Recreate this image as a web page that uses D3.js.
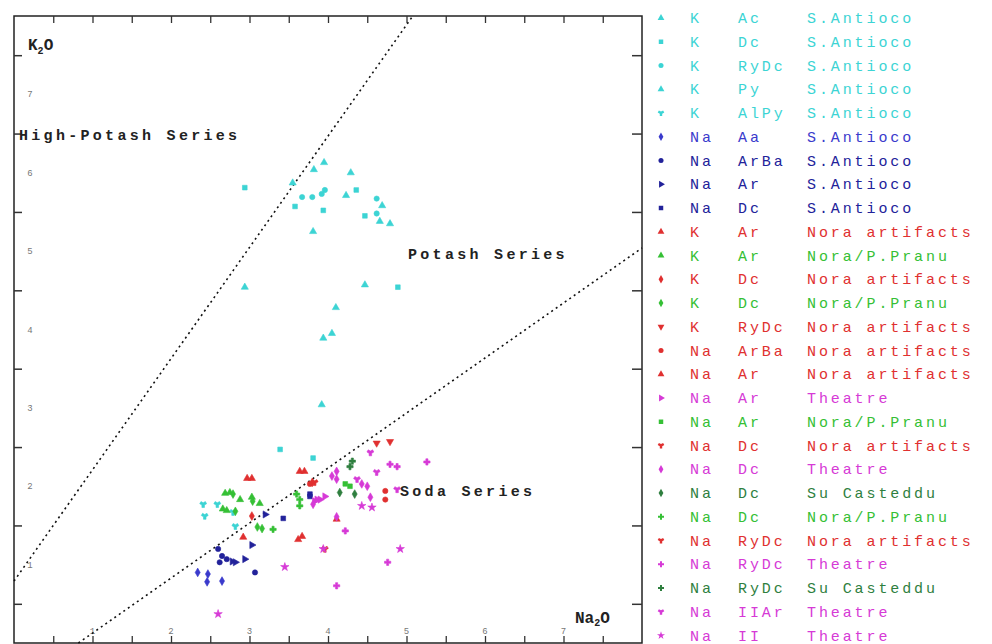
<!DOCTYPE html>
<html><head><meta charset="utf-8">
<script src="https://cdn.jsdelivr.net/npm/d3@7/dist/d3.min.js"></script>
<style>
html,body{margin:0;padding:0;background:#fff;}
svg text{font-family:"Liberation Mono","DejaVu Sans Mono",monospace;}
</style></head>
<body><svg id="c" width="992" height="644"></svg>
<script>
// ---- data ----
const xTicks = [1,2,3,4,5,6,7];
const yTicks = [1,2,3,4,5,6,7];
const potashLine = [[0,0.79],[5.08,8]];
const sodaLine = [[0.82,0],[8,5.04]];
const seriesType = ["K","K","K","K","K","Na","Na","Na","Na","K","K","K","K","K","Na","Na","Na","Na","Na","Na","Na","Na","Na","Na","Na","Na","Na"];
const seriesGlass = ["Ac","Dc","RyDc","Py","AlPy","Aa","ArBa","Ar","Dc","Ar","Ar","Dc","Dc","RyDc","ArBa","Ar","Ar","Ar","Dc","Dc","Dc","Dc","RyDc","RyDc","RyDc","IIAr","II"];
const seriesSite = ["S.Antioco","S.Antioco","S.Antioco","S.Antioco","S.Antioco","S.Antioco","S.Antioco","S.Antioco","S.Antioco","Nora artifacts","Nora/P.Pranu","Nora artifacts","Nora/P.Pranu","Nora artifacts","Nora artifacts","Nora artifacts","Theatre","Nora/P.Pranu","Nora artifacts","Theatre","Su Casteddu","Nora/P.Pranu","Nora artifacts","Theatre","Su Casteddu","Theatre","Theatre"];
const s01 = [[3.95,6.13],[3.82,6.04],[4.29,6.00],[3.55,5.87],[4.23,5.71],[4.79,5.35],[3.81,5.25],[4.47,4.57],[4.05,3.95],[3.92,3.04]];
const s02 = [[2.94,5.81],[3.58,5.57],[3.94,5.52],[4.36,5.78],[4.47,5.45],[4.89,4.54],[3.39,2.47],[3.81,2.36]];
const s03 = [[3.67,5.69],[3.80,5.69],[3.92,5.73],[3.96,5.78],[4.62,5.67],[4.62,5.48]];
const s04 = [[4.69,5.58],[4.66,5.38],[2.94,4.54],[4.10,4.28],[3.94,3.89]];
const s05 = [[2.41,1.77],[2.43,1.62],[2.59,1.77],[2.79,1.67],[2.82,1.49]];
const s06 = [[2.34,0.90],[2.47,0.88],[2.65,0.79],[2.46,0.78]];
const s07 = [[2.60,1.20],[2.65,1.11],[2.62,1.03],[2.71,1.07],[3.07,0.90]];
const s08 = [[2.78,1.04],[2.82,1.03],[2.94,1.07],[3.03,1.25],[3.20,1.64]];
const s09 = [[3.43,1.59],[3.77,1.90],[3.77,1.87]];
const s10 = [[2.97,2.10],[3.03,2.10],[3.64,2.19],[3.70,2.19],[2.92,1.35]];
const s11 = [[2.69,1.91],[2.75,1.92],[2.88,1.83],[3.03,1.86],[3.13,1.78],[2.66,1.71],[2.71,1.69]];
const s12 = [[3.03,1.62],[3.80,2.05]];
const s13 = [[2.79,1.90],[3.04,1.81],[2.82,1.68],[3.10,1.48],[3.16,1.46]];
const s14 = [[4.79,2.57],[4.62,2.55]];
const s15 = [[3.77,2.03],[4.73,1.94],[4.73,1.83]];
const s16 = [[3.67,1.36],[3.62,1.32],[4.11,1.58]];
const s17 = [[3.83,1.81],[3.90,1.83],[3.96,1.87],[3.86,1.83]];
const s18 = [[4.22,2.03],[4.28,2.00]];
const s19 = [[3.83,2.05]];
const s20 = [[4.05,2.13],[4.11,2.09],[4.43,2.03],[4.50,2.00],[4.11,2.19],[4.54,1.86],[3.81,1.77],[4.11,1.61]];
const s21 = [[4.15,1.92],[4.34,1.90]];
const s22 = [[3.30,1.45],[3.64,1.83],[3.64,1.75],[3.60,1.90]];
const s23 = [[3.96,1.20]];
const s24 = [[4.79,2.28],[4.88,2.25],[5.26,2.31],[4.22,1.43],[4.76,1.03],[4.11,0.73]];
const s25 = [[4.31,2.32],[4.28,2.25]];
const s26 = [[4.54,2.43],[4.62,2.18],[4.37,2.09],[4.88,1.96]];
const s27 = [[4.43,1.75],[4.56,1.73],[4.92,1.20],[3.94,1.20],[2.60,0.37],[3.45,0.97]];
const seriesValues = [s01,s02,s03,s04,s05,s06,s07,s08,s09,s10,s11,s12,s13,s14,s15,s16,s17,s18,s19,s20,s21,s22,s23,s24,s25,s26,s27];

// ---- styles ----
const C = {cyan:"#3cd4d4", blue:"#3a3acc", navy:"#22229a", red:"#e03030", green:"#35c035", mag:"#d63ad6", dgreen:"#2f7f3f"};
const colors = [C.cyan,C.cyan,C.cyan,C.cyan,C.cyan,C.blue,C.navy,C.navy,C.navy,C.red,C.green,C.red,C.green,C.red,C.red,C.red,C.mag,C.green,C.red,C.mag,C.dgreen,C.green,C.red,C.mag,C.dgreen,C.mag,C.mag];
const S = d3;
const shapes = [S.symbolTriangle,S.symbolSquare,S.symbolCircle,S.symbolTriangle,S.symbolWye,S.symbolDiamond,S.symbolCircle,S.symbolTriangle,S.symbolSquare,S.symbolTriangle,S.symbolTriangle,S.symbolDiamond,S.symbolDiamond,S.symbolTriangle,S.symbolCircle,S.symbolTriangle,S.symbolTriangle,S.symbolSquare,S.symbolWye,S.symbolDiamond,S.symbolDiamond,S.symbolCross,S.symbolWye,S.symbolCross,S.symbolCross,S.symbolWye,S.symbolStar];
const rot = [0,0,0,0,0,0,0,90,0,0,0,0,0,180,0,0,90,0,0,0,0,0,0,0,0,0,0];

const svg = d3.select("#c");
const x = d3.scaleLinear([0,8],[14,642]);
const y = d3.scaleLinear([0,8],[643,16]);

// frame
svg.append("rect").attr("x",14).attr("y",16).attr("width",628).attr("height",627)
  .attr("fill","none").attr("stroke","#222").attr("stroke-width",1.5);

const halfTicks = d3.range(0.5,8,0.5);
svg.append("g").attr("transform","translate(0,16)")
  .call(d3.axisBottom(x).tickValues(halfTicks).tickSize(7).tickFormat(""))
  .call(g=>g.select(".domain").remove()).selectAll("line").attr("stroke","#333").attr("stroke-width",1.3);
svg.append("g").attr("transform","translate(0,643)")
  .call(d3.axisTop(x).tickValues(halfTicks).tickSize(7).tickFormat(""))
  .call(g=>g.select(".domain").remove()).selectAll("line").attr("stroke","#333").attr("stroke-width",1.3);
svg.append("g").attr("transform","translate(14,0)")
  .call(d3.axisRight(y).tickValues(halfTicks.filter(v=>v%1!==0)).tickSize(8).tickFormat(""))
  .call(g=>g.select(".domain").remove()).selectAll("line").attr("stroke","#333").attr("stroke-width",1.5);
svg.append("g").attr("transform","translate(642,0)")
  .call(d3.axisLeft(y).tickValues(halfTicks.filter(v=>v%1!==0)).tickSize(10).tickFormat(""))
  .call(g=>g.select(".domain").remove()).selectAll("line").attr("stroke","#333").attr("stroke-width",1.5);

// faint tick labels
svg.append("g").selectAll("text").data(yTicks).join("text")
  .attr("x",30).attr("y",d=>y(d)+3).attr("text-anchor","middle")
  .attr("font-size",9).attr("fill","#777").text(d=>d);
svg.append("g").selectAll("text").data(xTicks).join("text")
  .attr("x",d=>x(d)).attr("y",634).attr("text-anchor","middle")
  .attr("font-size",9).attr("fill","#777").text(d=>d);

// dotted lines
const line = d3.line().x(d=>x(d[0])).y(d=>y(d[1]));
[potashLine,sodaLine].forEach(L=>{
  svg.append("path").attr("d",line(L)).attr("fill","none").attr("stroke","#111")
    .attr("stroke-width",1.6).attr("stroke-dasharray","2,3.5");
});

// points
seriesValues.forEach((pts,i)=>{
  const sym = d3.symbol().type(shapes[i]).size(22);
  svg.append("g").selectAll("path").data(pts).join("path")
    .attr("d",sym).attr("fill",colors[i]).attr("stroke",colors[i]).attr("stroke-width",0.6)
    .attr("transform",d=>`translate(${x(d[0])},${y(d[1])}) rotate(${rot[i]})`);
});

// labels
const lab = (t,px,py)=>svg.append("text").attr("x",px).attr("y",py).attr("font-size",15)
  .attr("letter-spacing",3.3).attr("font-weight","bold").attr("fill","#222").text(t);
lab("High-Potash Series",19,140);
lab("Potash Series",408,259);
lab("Soda Series",400,496);
const k2o = svg.append("text").attr("x",28).attr("y",50).attr("font-size",16).attr("fill","#222").attr("font-weight","bold");
k2o.append("tspan").text("K");
k2o.append("tspan").attr("font-size",10).attr("dy",4).text("2");
k2o.append("tspan").attr("dy",-4).text("O");
const na2o = svg.append("text").attr("x",575).attr("y",623).attr("font-size",16).attr("fill","#222").attr("font-weight","bold");
na2o.append("tspan").text("Na");
na2o.append("tspan").attr("font-size",10).attr("dy",3).text("2");
na2o.append("tspan").attr("dy",-3).text("O");

// legend
const rowY = i => 18 + i*23.75;
const lg = svg.append("g");
seriesValues.forEach((pts,i)=>{
  const g = lg.append("g").attr("fill",colors[i]);
  g.append("path").attr("d",d3.symbol().type(shapes[i]).size(20)())
    .attr("transform",`translate(661,${rowY(i)}) rotate(${rot[i]})`).attr("fill",colors[i]);
  const t = (s,px)=>g.append("text").attr("x",px).attr("y",rowY(i)+5).attr("font-size",15)
    .attr("letter-spacing",2.9).text(s);
  t(seriesType[i],690);
  t(seriesGlass[i],738);
  t(seriesSite[i],807);
});
</script></body></html>
